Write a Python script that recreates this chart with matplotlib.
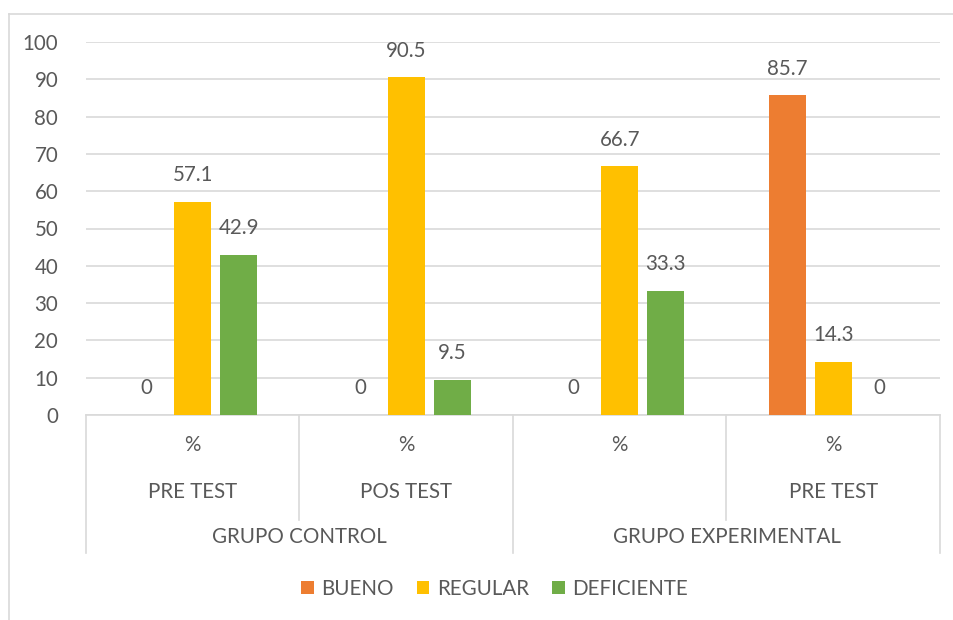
import matplotlib
matplotlib.use("Agg")
import matplotlib.pyplot as plt
import matplotlib.transforms as mtransforms
import numpy as np

# ---- data ----
row1_labels = ["%", "%", "%", "%"]
row2_labels = ["PRE TEST", "POS TEST", "", "PRE TEST"]
group_labels = ["GRUPO CONTROL", "GRUPO EXPERIMENTAL"]
group_sizes = [2, 2]
series_names = ["BUENO", "REGULAR", "DEFICIENTE"]
bueno = [0, 0, 0, 85.7]
regular = [57.1, 90.5, 66.7, 14.3]
deficiente = [42.9, 9.5, 33.3, 0]
yticks = [0, 10, 20, 30, 40, 50, 60, 70, 80, 90, 100]

colors = ["#ED7D31", "#FFC000", "#70AD47"]
txt = "#595959"
grid = "#D9D9D9"

plt.rcParams['font.family'] = ['Lato', 'DejaVu Sans']

W, H = 954, 620
fig = plt.figure(figsize=(W / 100, H / 100), dpi=100)
fig.patch.set_facecolor("white")

# chart border (light grey)
fig.add_artist(plt.Line2D([9 / W, 9 / W], [0, 1 - 14 / H], transform=fig.transFigure, color=grid, lw=1.2))
fig.add_artist(plt.Line2D([9 / W, 1], [1 - 14 / H, 1 - 14 / H], transform=fig.transFigure, color=grid, lw=1.2))

left, right = 86 / W, 940 / W
bottom, top = 1 - 415 / H, 1 - 42 / H
ax = fig.add_axes([left, bottom, right - left, top - bottom])

n = len(regular)
x = np.arange(n)
bw = 0.174
off = 0.216
fs = 14.8
series = [bueno, regular, deficiente]
for i, (vals, name, c) in enumerate(zip(series, series_names, colors)):
    pos = x + (i - 1) * off
    ax.bar(pos, vals, width=bw, color=c, label=name, zorder=3)
    for p, v in zip(pos, vals):
        lab = f"{v:g}" if v != 0 else "0"
        ax.annotate(lab, (p, v), xytext=(0, 12), textcoords="offset points",
                    ha="center", va="bottom", fontsize=fs, color=txt)

ax.set_xlim(-0.5, n - 0.5)
ax.set_ylim(0, 100)
ax.set_yticks(yticks)
ax.set_yticklabels([str(t) for t in yticks])
ax.tick_params(axis="y", length=0, labelsize=fs, labelcolor=txt, pad=20)
ax.tick_params(axis="x", length=0, labelbottom=False)
ax.yaxis.grid(True, color=grid, lw=1.2, zorder=0)
for s in ["top", "right", "left"]:
    ax.spines[s].set_visible(False)
ax.spines["bottom"].set_color(grid)
ax.spines["bottom"].set_linewidth(1.2)
ax.set_xticks([])

# multi-level category axis
trans = mtransforms.blended_transform_factory(ax.transData, fig.transFigure)
def fy(py):
    return 1 - py / H

for i in range(n):
    ax.text(x[i], fy(445), row1_labels[i], transform=trans, ha="center", va="center",
            fontsize=fs, color=txt)
    ax.text(x[i], fy(492), row2_labels[i], transform=trans, ha="center", va="center",
            fontsize=fs, color=txt)

start = 0
bounds = [-0.5]
for gs, gl in zip(group_sizes, group_labels):
    end = start + gs
    ax.text((start + end - 1) / 2, fy(537), gl, transform=trans, ha="center", va="center",
            fontsize=fs, color=txt)
    for k in range(start + 1, end):
        ax.plot([k - 0.5, k - 0.5], [fy(415), fy(520)], transform=trans, color=grid,
                lw=1.2, clip_on=False)
    bounds.append(end - 0.5)
    start = end
for b in bounds:
    ax.plot([b, b], [fy(415), fy(553)], transform=trans, color=grid, lw=1.2, clip_on=False)

handles, labels = ax.get_legend_handles_labels()
fig.legend(handles, labels, loc="center", bbox_to_anchor=(494.5 / W, fy(589)), ncol=3,
           frameon=False, fontsize=fs, labelcolor=txt, handlelength=0.6,
           handleheight=0.6, handletextpad=0.35, columnspacing=1.15)

fig.savefig("out.png", dpi=100, facecolor="white")
